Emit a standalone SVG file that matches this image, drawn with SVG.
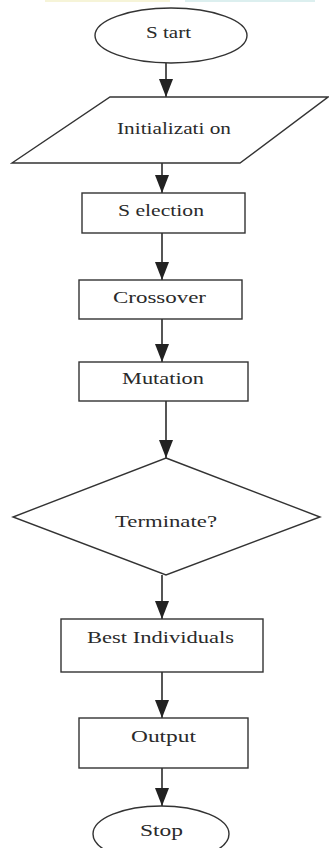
<svg xmlns="http://www.w3.org/2000/svg" width="329" height="848" viewBox="0 0 329 848">
<style>
.shape{fill:#ffffff;stroke:#333333;stroke-width:1.4}
.lbl{font-family:"Liberation Serif","Times New Roman",serif;font-size:17px;fill:#2a2a2a;text-anchor:middle}
.conn{stroke:#2b2b2b;stroke-width:1.6;fill:none}
</style>
<defs>
<marker id="ah" markerUnits="userSpaceOnUse" markerWidth="18" markerHeight="14" refX="18" refY="7" orient="auto">
<path d="M0,0 L18,7 L0,14 Z" fill="#222222"/>
</marker>
</defs>
<rect x="0" y="0" width="329" height="848" fill="#ffffff"/>
<rect x="45" y="0" width="125" height="2" fill="#f6f4d8"/>
<rect x="185" y="0" width="130" height="2" fill="#dcefef"/>
<g id="connectors">
<line class="conn" x1="166" y1="63" x2="166" y2="97" marker-end="url(#ah)"/>
<line class="conn" x1="162" y1="163" x2="162" y2="193" marker-end="url(#ah)"/>
<line class="conn" x1="162" y1="233" x2="162" y2="280" marker-end="url(#ah)"/>
<line class="conn" x1="162" y1="319" x2="162" y2="362" marker-end="url(#ah)"/>
<line class="conn" x1="166" y1="401" x2="166" y2="458" marker-end="url(#ah)"/>
<line class="conn" x1="162" y1="575" x2="162" y2="619" marker-end="url(#ah)"/>
<line class="conn" x1="162" y1="672" x2="162" y2="718" marker-end="url(#ah)"/>
<line class="conn" x1="162" y1="768" x2="162" y2="806" marker-end="url(#ah)"/>
</g>
<g id="start">
<ellipse class="shape" cx="171" cy="35.5" rx="76" ry="27.5"/>
<text class="lbl" x="168.5" y="38" textLength="45" lengthAdjust="spacingAndGlyphs">S tart</text>
</g>
<g id="initialization">
<polygon class="shape" points="110,97 328,97 240,163 12,163"/>
<text class="lbl" x="174" y="134" textLength="114" lengthAdjust="spacingAndGlyphs">Initializati on</text>
</g>
<g id="selection">
<rect class="shape" x="82" y="193" width="163" height="40"/>
<text class="lbl" x="161" y="216" textLength="86" lengthAdjust="spacingAndGlyphs">S election</text>
</g>
<g id="crossover">
<rect class="shape" x="79" y="280" width="163" height="39"/>
<text class="lbl" x="159.5" y="303" textLength="93" lengthAdjust="spacingAndGlyphs">Crossover</text>
</g>
<g id="mutation">
<rect class="shape" x="79" y="362" width="169" height="39"/>
<text class="lbl" x="163" y="384" textLength="82" lengthAdjust="spacingAndGlyphs">Mutation</text>
</g>
<g id="terminate">
<polygon class="shape" points="166,458 320,517 166,575 13,517"/>
<text class="lbl" x="166" y="527" textLength="102" lengthAdjust="spacingAndGlyphs">Terminate?</text>
</g>
<g id="best">
<rect class="shape" x="61" y="619" width="202" height="53"/>
<text class="lbl" x="160.5" y="643" textLength="147" lengthAdjust="spacingAndGlyphs">Best Individuals</text>
</g>
<g id="output">
<rect class="shape" x="79" y="718" width="169" height="50"/>
<text class="lbl" x="163.5" y="742" textLength="65" lengthAdjust="spacingAndGlyphs">Output</text>
</g>
<g id="stop">
<ellipse class="shape" cx="161" cy="834" rx="68" ry="28"/>
<text class="lbl" x="161.5" y="836" textLength="43" lengthAdjust="spacingAndGlyphs">Stop</text>
</g>
</svg>
